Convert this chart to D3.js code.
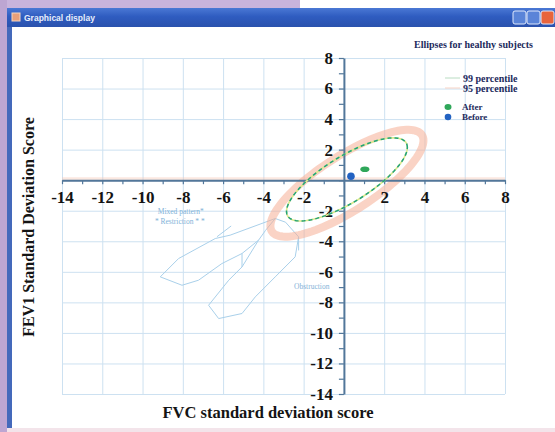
<!DOCTYPE html>
<html>
<head>
<meta charset="utf-8">
<script src="https://cdn.jsdelivr.net/npm/d3@7"></script>
<style>
  body { margin: 0; background: #fff; }
  svg { display: block; }
</style>
</head>
<body>
<svg id="chart" width="555" height="432"></svg>
<script>
// ---- data ----
const axisDomain = [-14, 8];
const labelTicks = [-14, -12, -10, -8, -6, -4, -2, 2, 4, 6, 8];
const gridTicks = [-14, -12, -10, -8, -6, -4, -2, 0, 2, 4, 6, 8];
const minorTicks = [-14, -13, -12, -11, -10, -9, -8, -7, -6, -5, -4, -3, -2, -1, 0, 1, 2, 3, 4, 5, 6, 7, 8];

// reference ellipses for healthy subjects: centre, spread (FVC, FEV1) and correlation
const ellipseNames = ["99 percentile", "95 percentile"];
const ellipseCentre = [[0.15, -0.2], [0.15, 0.05]];
const ellipseSpread = [[3.8, 3.5], [3.0, 2.72]];
const ellipseCorr = [0.8, 0.77];

// patient measurements
const pointNames = ["After", "Before"];
const pointFVC = [1.04, 0.35];
const pointFEV1 = [0.72, 0.26];

// outlines of the pattern zones (FVC, FEV1)
const zoneUpper = [[-3.41, -2.51], [-5.65, -3.6], [-6.39, -3.82], [-8.21, -5.13], [-9.12, -6.33],
                   [-8.04, -6.88], [-7.22, -6.55], [-6.06, -5.46], [-5.06, -4.8], [-4.24, -3.93]];
const zoneLower = [[-4.24, -3.93], [-5.06, -5.68], [-5.72, -6.55], [-6.72, -8.19], [-6.22, -9.06],
                   [-5.06, -8.73], [-4.4, -7.64], [-3.41, -6.33], [-2.42, -5.02], [-2.25, -3.71]];
const zoneLinks = [[[-3.41, -2.51], [-3.9, -3.3], [-4.24, -3.93]],
                   [[-5.6, -3.0], [-6.3, -3.7]],
                   [[-2.25, -3.71], [-2.25, -4.6]],
                   [[-5.06, -4.8], [-5.06, -5.68]],
                   [[-3.41, -2.51], [-2.9, -2.75], [-2.25, -3.71]]];
const zoneLabels = ["Mixed pattern*", "* Restriction * *", "Obstruction"];
const zoneLabelAt = [[-8.1, -2.2], [-8.15, -2.85], [-1.6, -7.15]];

// ---- drawing ----
const svg = d3.select("#chart");

// desktop + window frame
svg.append("rect").attr("width", 555).attr("height", 432).attr("fill", "#ffffff");
svg.append("rect").attr("x", 0).attr("y", 0).attr("width", 300).attr("height", 8).attr("fill", "#c9b4dc");
svg.append("rect").attr("x", 0).attr("y", 0).attr("width", 7).attr("height", 432).attr("fill", "#bda6d2");
svg.append("rect").attr("x", 7).attr("y", 8).attr("width", 5).attr("height", 424).attr("fill", "#4469bb");
svg.append("rect").attr("x", 7).attr("y", 428).attr("width", 548).attr("height", 4).attr("fill", "#f3e4ea");

const defs = svg.append("defs");
const tb = defs.append("linearGradient").attr("id", "titlebar").attr("x1", 0).attr("x2", 0).attr("y1", 0).attr("y2", 1);
tb.append("stop").attr("offset", "0%").attr("stop-color", "#4a78d4");
tb.append("stop").attr("offset", "45%").attr("stop-color", "#2f5cc0");
tb.append("stop").attr("offset", "100%").attr("stop-color", "#2a52ad");
svg.append("rect").attr("x", 7).attr("y", 8).attr("width", 548).attr("height", 19).attr("fill", "url(#titlebar)");
svg.append("rect").attr("x", 12).attr("y", 13).attr("width", 8).attr("height", 8).attr("fill", "#e9a07a").attr("stroke", "#f5d5c0").attr("stroke-width", 1);
svg.append("text").attr("x", 24).attr("y", 21).attr("fill", "#e8eefc")
  .style("font-family", "'Liberation Sans', Arial, sans-serif").style("font-size", "8.5px").style("font-weight", "bold")
  .text("Graphical display");
[[513, "#5a84d8"], [527, "#5a84d8"], [541, "#e8643c"]].forEach(([bx, c]) => {
  svg.append("rect").attr("x", bx).attr("y", 11).attr("width", 13).attr("height", 13).attr("rx", 2)
    .attr("fill", c).attr("stroke", "#dfe8fb").attr("stroke-width", 1);
});

const x = d3.scaleLinear().domain(axisDomain).range([62, 505]);
const y = d3.scaleLinear().domain(axisDomain).range([394, 58]);

// grid
const grid = svg.append("g").attr("stroke", "#cde1f1").attr("stroke-width", 1);
grid.selectAll(".gv").data(gridTicks).join("line")
  .attr("x1", d => x(d) + 0.5).attr("x2", d => x(d) + 0.5)
  .attr("y1", y(axisDomain[1])).attr("y2", y(axisDomain[0]));
grid.selectAll(".gh").data(gridTicks).join("line")
  .attr("y1", d => y(d) + 0.5).attr("y2", d => y(d) + 0.5)
  .attr("x1", x(axisDomain[0])).attr("x2", x(axisDomain[1]));

// pattern zones
const zoneLine = d3.line().x(d => x(d[0])).y(d => y(d[1]));
const zones = svg.append("g").attr("fill", "none").attr("stroke", "#a9d0ea").attr("stroke-width", 1);
[zoneUpper, zoneLower, ...zoneLinks].forEach(pts => zones.append("path").attr("d", zoneLine(pts)));
svg.append("g").selectAll("text").data(zoneLabels).join("text")
  .attr("x", (d, i) => x(zoneLabelAt[i][0])).attr("y", (d, i) => y(zoneLabelAt[i][1]))
  .attr("text-anchor", "middle").attr("fill", "#7fb2d8")
  .style("font-family", "'Liberation Serif', serif").style("font-size", "7.5px")
  .text(d => d);

// ellipse outline sampled from centre / spread / correlation
function ellipsePath(i) {
  const [cx, cy] = ellipseCentre[i];
  const [sx, sy] = ellipseSpread[i];
  const phi = Math.acos(ellipseCorr[i]);
  const pts = d3.range(0, 361, 3).map(a => {
    const t = a * Math.PI / 180;
    return [cx + sx * Math.cos(t), cy + sy * Math.cos(t - phi)];
  });
  return d3.line().x(d => x(d[0])).y(d => y(d[1])).curve(d3.curveLinearClosed)(pts);
}

// faint salmon halo along the FVC axis
svg.append("line").attr("x1", x(axisDomain[0])).attr("x2", x(axisDomain[1]))
  .attr("y1", y(0) - 1).attr("y2", y(0) - 1).attr("stroke", "#f6c6b4").attr("stroke-width", 4).attr("opacity", 0.4);

// 99 percentile band
svg.append("path").attr("d", ellipsePath(0)).attr("fill", "none")
  .attr("stroke", "#f6ae95").attr("stroke-width", 8).attr("stroke-opacity", 0.55);

// axes
const axisColor = "#52779a";
function styleAxis(g) {
  g.select(".domain").attr("stroke", axisColor).attr("stroke-width", 2);
  g.selectAll(".tick line").attr("stroke", axisColor).attr("stroke-width", 1.2);
  g.selectAll("text").attr("fill", "#141414")
    .style("font-family", "'Liberation Serif', 'Times New Roman', serif")
    .style("font-size", "17px").style("font-weight", "bold");
}
svg.append("g").attr("transform", `translate(0,${y(0)})`)
  .call(d3.axisBottom(x).tickValues(minorTicks).tickSize(4).tickSizeOuter(0).tickFormat(""))
  .call(styleAxis);
svg.append("g").attr("transform", `translate(0,${y(0)})`)
  .call(d3.axisBottom(x).tickValues(labelTicks).tickSize(0).tickPadding(11).tickFormat(d => String(d)))
  .call(g => g.select(".domain").remove()).call(styleAxis);
svg.append("g").attr("transform", `translate(${x(0)},0)`)
  .call(d3.axisLeft(y).tickValues(minorTicks).tickSize(5).tickSizeOuter(0).tickFormat(""))
  .call(styleAxis);
svg.append("g").attr("transform", `translate(${x(0)},0)`)
  .call(d3.axisLeft(y).tickValues(labelTicks).tickSize(0).tickPadding(11).tickFormat(d => String(d)))
  .call(g => g.select(".domain").remove()).call(styleAxis);

// 95 percentile ellipse
svg.append("path").attr("d", ellipsePath(1)).attr("fill", "none")
  .attr("stroke", "#dbe98c").attr("stroke-width", 1.6);
svg.append("path").attr("d", ellipsePath(1)).attr("fill", "none")
  .attr("stroke", "#23a27a").attr("stroke-width", 1.5).attr("stroke-dasharray", "4,3");

// patient points
const pointColors = ["#2fa75a", "#2262c2"];
svg.append("ellipse").attr("cx", x(pointFVC[0])).attr("cy", y(pointFEV1[0]))
  .attr("rx", 4.5).attr("ry", 2.8).attr("fill", pointColors[0]);
svg.append("circle").attr("cx", x(pointFVC[1])).attr("cy", y(pointFEV1[1]))
  .attr("r", 3.8).attr("fill", pointColors[1]);

// axis titles
const serif = "'Liberation Serif', 'Times New Roman', serif";
svg.append("text").attr("x", 268).attr("y", 418).attr("text-anchor", "middle").attr("fill", "#141414")
  .style("font-family", serif).style("font-size", "16.5px").style("font-weight", "bold")
  .text("FVC standard deviation score");
svg.append("text").attr("transform", "translate(34,227) rotate(-90)").attr("text-anchor", "middle").attr("fill", "#141414")
  .style("font-family", serif).style("font-size", "16px").style("font-weight", "bold")
  .text("FEV1 Standard Deviation Score");

// caption and legend
const navy = "#1c2a5c";
svg.append("text").attr("x", 533).attr("y", 48).attr("text-anchor", "end").attr("fill", navy)
  .style("font-family", serif).style("font-size", "10px").style("font-weight", "bold")
  .text("Ellipses for healthy subjects");
const legendLineColors = ["#b9dcc2", "#f6d2c4"];
ellipseNames.forEach((name, i) => {
  const ly = 78 + i * 10;
  svg.append("line").attr("x1", 445).attr("x2", 460).attr("y1", ly).attr("y2", ly)
    .attr("stroke", legendLineColors[i]).attr("stroke-width", 1);
  svg.append("text").attr("x", 463).attr("y", ly + 3.5).attr("fill", navy)
    .style("font-family", serif).style("font-size", "10px").style("font-weight", "bold").text(name);
});
pointNames.forEach((name, i) => {
  const ly = 107 + i * 10;
  if (i === 0) {
    svg.append("ellipse").attr("cx", 448).attr("cy", ly).attr("rx", 3.5).attr("ry", 3).attr("fill", pointColors[i]);
  } else {
    svg.append("circle").attr("cx", 448).attr("cy", ly).attr("r", 3.3).attr("fill", pointColors[i]);
  }
  svg.append("text").attr("x", 462).attr("y", ly + 3).attr("fill", navy)
    .style("font-family", serif).style("font-size", "9px").style("font-weight", "bold").text(name);
});
</script>
</body>
</html>
